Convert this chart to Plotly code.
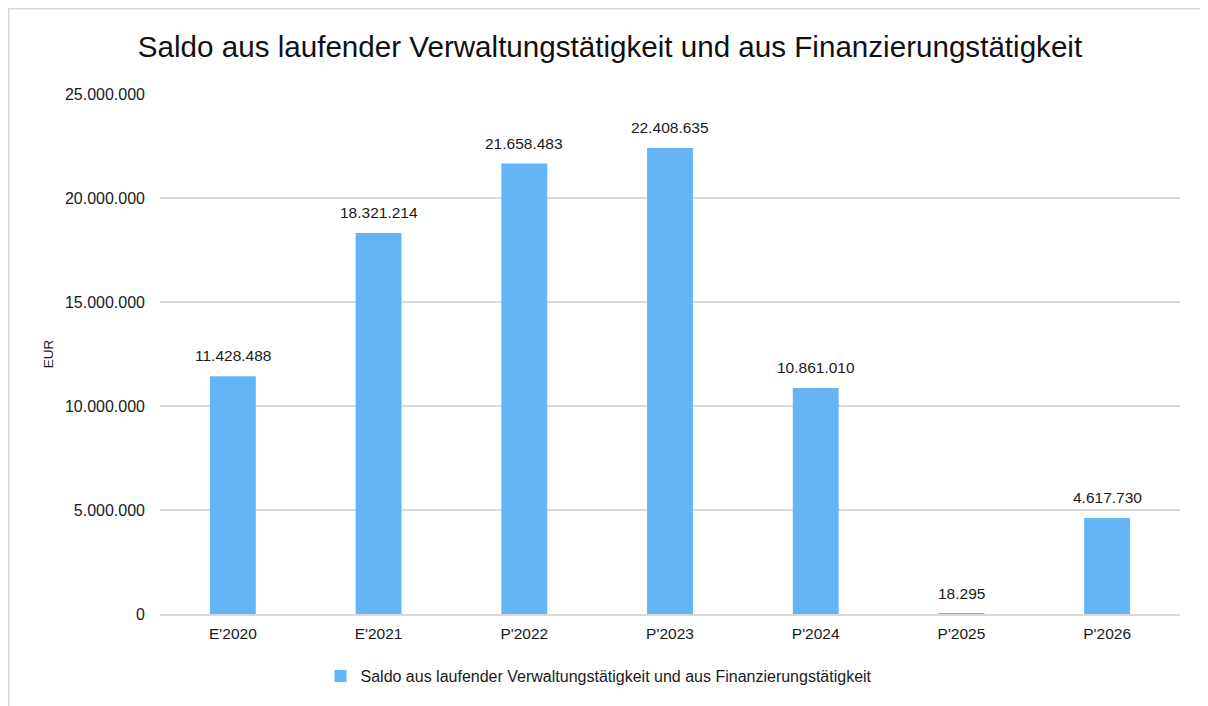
import plotly.graph_objects as go

categories = ["E'2020", "E'2021", "P'2022", "P'2023", "P'2024", "P'2025", "P'2026"]
values = [11428488, 18321214, 21658483, 22408635, 10861010, 18295, 4617730]
series_name = "Saldo aus laufender Verwaltungstätigkeit und aus Finanzierungstätigkeit"
title_text = "Saldo aus laufender Verwaltungstätigkeit und aus Finanzierungstätigkeit"
y_ticks = [0, 5000000, 10000000, 15000000, 20000000, 25000000]

BAR = "#64B5F6"
FONT = "Liberation Sans, Arial, sans-serif"
TXT = "#1a1a1a"

W, H = 1200, 698  # page body has an 8px margin
L, R, T, B = 152, 28, 86, 92
PW, PH = W - L - R, H - T - B

fig = go.Figure()
fig.add_trace(go.Bar(
    x=categories, y=values, name=series_name,
    marker=dict(color=BAR, line=dict(width=0)),
    showlegend=True,
))

for c, v in zip(categories, values):
    fig.add_annotation(x=c, y=v, text=f"{v:,}".replace(",", "."),
                       showarrow=False, yanchor="bottom", yshift=10,
                       font=dict(size=15.5, color=TXT, family=FONT))

fig.update_layout(
    width=W, height=H,
    margin=dict(l=L, r=R, t=T, b=B),
    paper_bgcolor="white", plot_bgcolor="white",
    separators=",.",
    font=dict(family=FONT, color=TXT),
    title=dict(text=title_text, x=602 / W, xref="container", xanchor="center",
               y=1 - 39 / H, yref="container", yanchor="middle",
               font=dict(size=29.6, color="#111111", family=FONT)),
    bargap=0.685,
    showlegend=True,
    legend=dict(orientation="h", xref="container", yref="container",
                x=591 / W, xanchor="center", y=1 - 668 / H, yanchor="middle",
                font=dict(size=16, color=TXT, family=FONT),
                itemwidth=30, itemsizing="constant"),
    xaxis=dict(showgrid=False, showline=True, linecolor="#d9d9d9", linewidth=2,
               tickfont=dict(size=15.5, color=TXT), ticks="",
               ticklabelstandoff=4),
    yaxis=dict(range=[0, 25000000], tickvals=y_ticks, tickformat=",d",
               showgrid=True, gridcolor="#d9d9d9", gridwidth=1.5,
               zeroline=False, showline=False, ticks="",
               tickfont=dict(size=16, color=TXT),
               ticklabelstandoff=14,
               title=dict(text="EUR", font=dict(size=13.5, color=TXT), standoff=8)),
    shapes=[dict(type="rect", xref="paper", yref="paper",
                 x0=(0.75 - L) / PW, x1=1.1, y0=-0.3, y1=(PH + T - 0.75) / PH,
                 line=dict(color="#d9d9d9", width=1.5), fillcolor="rgba(0,0,0,0)",
                 layer="below")],
)

fig.write_html("out.html")
